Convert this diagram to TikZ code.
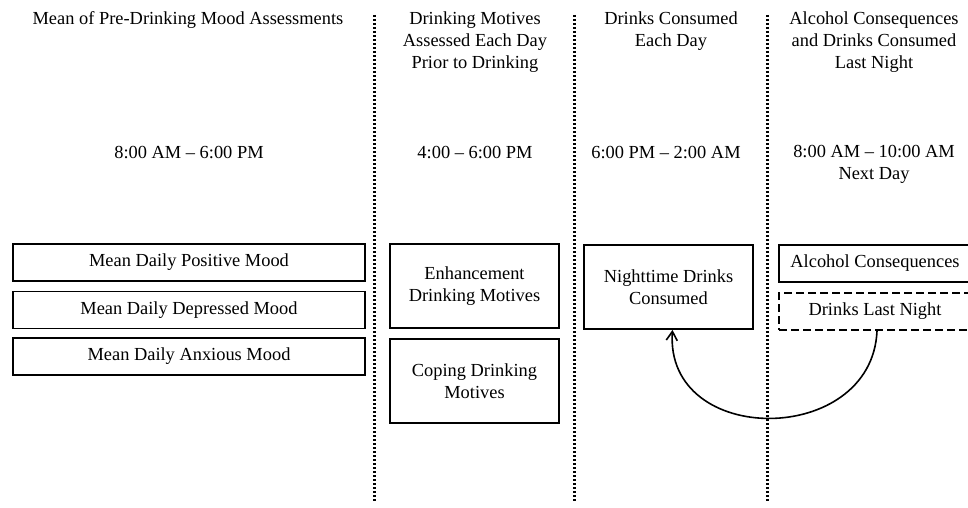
\documentclass[tikz,border=0pt]{standalone}
\usepackage{fontspec}
\setmainfont{Liberation Serif}
\usepackage{tikz}
\usetikzlibrary{arrows.meta}

\begin{document}
\begin{tikzpicture}[x=0.5pt, y=-0.5pt, font=\fontsize{9.2}{11}\selectfont,
    wide/.style={rectangle, draw, line width=0.9pt, minimum width=176pt, minimum height=18.5pt, inner sep=0pt},
    block/.style={rectangle, draw, line width=0.9pt, minimum width=84.5pt, minimum height=42pt, inner sep=0pt, align=center},
    late/.style={rectangle, draw, line width=0.9pt, minimum width=96pt, minimum height=18.5pt, inner sep=0pt},
    head/.style={align=center},
    divider/.style={line width=1.5pt, dash pattern=on 1pt off 1pt},
    arrow/.style={-{Straight Barb[length=4.5pt, width=5.5pt]}, line width=0.8pt}
]
\clip (0,0) rectangle (968,508);

% Column headers
\node[head] (h1) at (188,20) {Mean of Pre-Drinking Mood Assessments};
\node[head] (h2) at (475,42) {Drinking Motives\\Assessed Each Day\\Prior to Drinking};
\node[head] (h3) at (671,31) {Drinks Consumed\\Each Day};
\node[head] (h4) at (874,42) {Alcohol Consequences\\and Drinks Consumed\\Last Night};

% Time windows
\node[head] (t1) at (189,153) {8:00 AM -- 6:00 PM};
\node[head] (t2) at (475,153) {4:00 -- 6:00 PM};
\node[head] (t3) at (666,153) {6:00 PM -- 2:00 AM};
\node[head] (t4) at (874,164) {8:00 AM -- 10:00 AM\\Next Day};

% Dividers
\draw[divider] (374,15) -- (374,503);
\draw[divider] (574,15) -- (574,503);
\draw[divider] (767,15) -- (767,503);

% Mood boxes
\node[wide] (pos) at (189,262.5) {Mean Daily Positive Mood};
\node[wide] (dep) at (189,310) {Mean Daily Depressed Mood};
\node[wide] (anx) at (189,356.5) {Mean Daily Anxious Mood};

% Motives and drinking
\node[block] (enh) at (474.5,286) {Enhancement\\Drinking Motives};
\node[block] (cope) at (474.5,381) {Coping Drinking\\Motives};
\node[block] (night) at (668.5,287) {Nighttime Drinks\\Consumed};

% Next day
\node[late] (cons) at (875,263.5) {Alcohol Consequences};
\node[late, dash pattern=on 4pt off 2pt] (last) at (875,311.5) {Drinks Last Night};

\draw[arrow] ([xshift=1pt]last.south) .. controls +(-5,116) and +(-8,118) .. ([xshift=2pt]night.south);

\end{tikzpicture}
\end{document}
